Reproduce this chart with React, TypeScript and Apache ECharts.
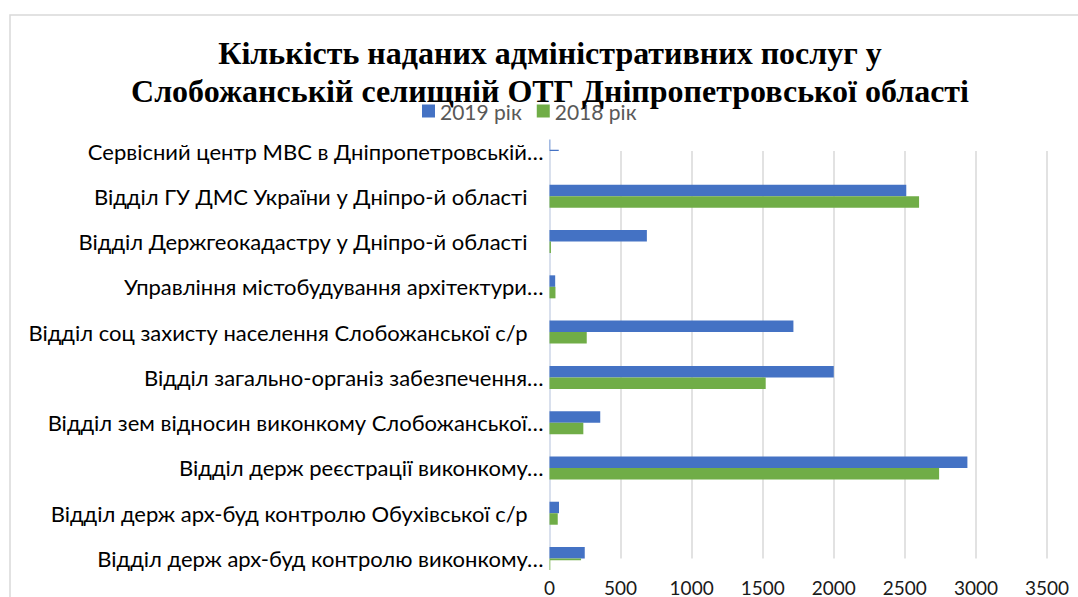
import React, { useEffect, useRef } from "react";
import * as echarts from "echarts";

const categories = [
  "Сервісний центр МВС в Дніпропетровській…",
  "Відділ ГУ ДМС України у Дніпро-й області",
  "Відділ Держгеокадастру у Дніпро-й області",
  "Управління містобудування архітектури…",
  "Відділ соц захисту населення Слобожанської с/р",
  "Відділ загально-організ забезпечення…",
  "Відділ зем відносин виконкому Слобожанської…",
  "Відділ держ реєстрації виконкому…",
  "Відділ держ арх-буд контролю Обухівської с/р",
  "Відділ держ арх-буд контролю виконкому…",
];

const values2019 = [65, 2510, 685, 40, 1716, 2000, 357, 2940, 67, 248];
const values2018 = [0, 2600, 10, 42, 262, 1521, 238, 2741, 58, 222];

const seriesNames = ["2019 рік", "2018 рік"];
const titleText =
  "Кількість наданих адміністративних послуг у\nСлобожанській селищній ОТГ Дніпропетровської області";

const GRID_TOP = 151;
const GRID_BOTTOM = 38;

export default function App() {
  const ref = useRef<HTMLDivElement>(null);

  useEffect(() => {
    if (!ref.current) return;
    const chart = echarts.init(ref.current, undefined, { renderer: "svg" });
    const labelFont = { fontFamily: "Lato", fontSize: 22, color: "#000000" };
    chart.setOption({
      animation: false,
      backgroundColor: "#ffffff",
      graphic: [
        {
          type: "rect",
          z: -10,
          shape: { x: 10, y: 15, width: 1200, height: 800 },
          style: { fill: "none", stroke: "#d9d9d9", lineWidth: 1.5 },
          silent: true,
        },
        // masks: the plot area ends at the centres of the first and last categories
        {
          type: "rect",
          z: 100,
          shape: { x: 550.3, y: 126, width: 530, height: GRID_TOP - 1.2 - 126 },
          style: { fill: "#ffffff" },
          silent: true,
        },
        {
          type: "rect",
          z: 100,
          shape: { x: 550.3, y: 597 - GRID_BOTTOM + 1.2, width: 530, height: 14 },
          style: { fill: "#ffffff" },
          silent: true,
        },
      ],
      title: {
        text: titleText,
        left: 550,
        top: 34,
        padding: 0,
        textAlign: "center",
        textStyle: {
          fontFamily: "Liberation Serif",
          fontWeight: "bold",
          fontSize: 32,
          lineHeight: 38,
          color: "#000000",
        },
      },
      legend: {
        data: seriesNames,
        left: 422,
        top: 100.5,
        padding: 0,
        icon: "rect",
        itemWidth: 13,
        itemHeight: 13,
        itemGap: 15,
        textStyle: {
          fontFamily: "Lato",
          fontSize: 21,
          color: "#595959",
        },
      },
      grid: {
        left: 549.5,
        right: 31,
        top: GRID_TOP,
        bottom: GRID_BOTTOM,
        containLabel: false,
      },
      xAxis: {
        type: "value",
        min: 0,
        max: 3500,
        interval: 500,
        axisLine: { show: false },
        axisTick: { show: false },
        splitLine: { lineStyle: { color: "#d9d9d9", width: 1.5 } },
        axisLabel: {
          fontFamily: "Lato",
          fontSize: 19,
          lineHeight: 16,
          color: "#1a1a1a",
          margin: 21,
          formatter: (v: number) => String(v),
        },
      },
      yAxis: {
        type: "category",
        data: categories,
        inverse: true,
        boundaryGap: false,
        axisLine: { show: true, lineStyle: { color: "#d6dff0", width: 1.5 } },
        axisTick: { show: false },
        splitLine: { show: false },
        axisLabel: {
          ...labelFont,
          margin: 6,
          formatter: (v: string) => (v.endsWith("…") ? `{e|${v}}` : `{p|${v}}`),
          rich: {
            e: { ...labelFont },
            p: { ...labelFont, padding: [0, 16, 0, 0] },
          },
        },
      },
      series: [
        {
          name: seriesNames[0],
          type: "bar",
          data: values2019,
          barWidth: 11.5,
          barGap: "0%",
          itemStyle: { color: "#4472c4" },
        },
        {
          name: seriesNames[1],
          type: "bar",
          data: values2018,
          barWidth: 11.5,
          barGap: "0%",
          itemStyle: { color: "#70ad47" },
        },
      ],
    });
    return () => chart.dispose();
  }, []);

  return (
    <div
      ref={ref}
      style={{ position: "fixed", left: 0, top: 0, width: 1078, height: 597 }}
    />
  );
}
